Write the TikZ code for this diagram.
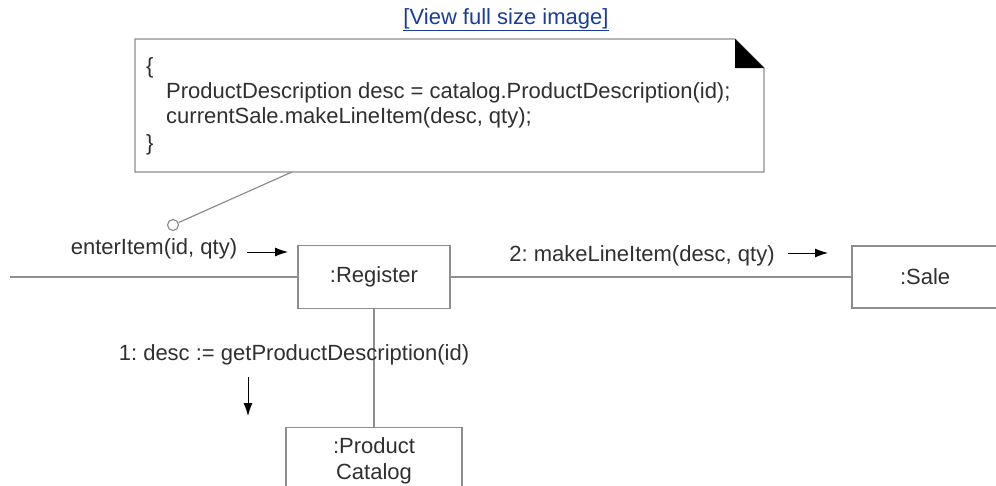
\documentclass[tikz,border=0pt]{standalone}
\usepackage{fontspec}
\setmainfont{Liberation Sans}
\usetikzlibrary{arrows.meta}
\definecolor{txt}{HTML}{303030}
\definecolor{ln}{HTML}{8E8E8E}
\definecolor{lnk}{HTML}{1A3C9E}
\frenchspacing
\begin{document}
\begin{tikzpicture}[x=1pt,y=-1pt,
  font=\fontsize{22}{26}\selectfont,
  every node/.style={text=txt},
  obj/.style={draw=ln, line width=1.2pt, fill=white, inner sep=0pt},
  wire/.style={draw=ln, line width=1.2pt},
  msg/.style={-{Latex[length=13pt,width=9pt]}, line width=0.9pt, draw=black},
  lbl/.style={inner sep=0pt}]
\useasboundingbox (0,0) rectangle (996,485);
\clip (0,0) rectangle (996,485);
\fill[white] (0,0) rectangle (996,485);

% link
\node[lbl, text=lnk] (link) at (506,20) {\underline{[View full size image]}};

% note
\draw[wire, fill=white] (135,39) -- (735,39) -- (764,68) -- (764,172) -- (135,172) -- cycle;
\fill[black] (735,39) -- (735,68) -- (764,68) -- cycle;
\node[lbl, anchor=west] (ob) at (146,68) {\{};
\node[lbl, anchor=west] (l1) at (166,93) {ProductDescription desc = catalog.ProductDescription(id);};
\node[lbl, anchor=west] (l2) at (166,118) {currentSale.makeLineItem(desc, qty);};
\node[lbl, anchor=west] (cb) at (146,145) {\}};
\coordinate (nb) at (292,172);
\node[draw=ln, line width=1.2pt, fill=white, circle, minimum size=11pt, inner sep=0pt] (circ) at (173,225) {};
\draw[wire] (nb) -- (circ);

% objects
\node[obj, minimum width=152pt, minimum height=63pt] (reg) at (374,277) {:Register};
\node[obj, minimum width=220pt, minimum height=62pt, text width=200pt] (sale) at (962,277) {\hspace*{38pt}:Sale};
\node[obj, anchor=north, minimum width=176pt, minimum height=66pt, align=center,
  font=\fontsize{22}{26}\selectfont] (cat) at (374,427) {:Product\\Catalog};

\coordinate (lend) at (10,277);
\draw[wire] (lend) -- (reg.west);
\draw[wire] (reg.east) -- (sale.west);
\draw[wire] (reg.south) -- (cat.north);

% messages
\node[lbl] (m0) at (154,249) {enterItem(id, qty)};
\coordinate (a0s) at (247,252);
\coordinate (a0e) at (288,252);
\draw[msg] (a0s) -- (a0e);

\node[lbl] (m2) at (642,256) {2: makeLineItem(desc, qty)};
\coordinate (a2s) at (788,253);
\coordinate (a2e) at (828,253);
\draw[msg] (a2s) -- (a2e);

\node[lbl] (m1) at (294,355) {1: desc := getProductDescription(id)};
\coordinate (a1s) at (248,377);
\coordinate (a1e) at (248,416);
\draw[msg] (a1s) -- (a1e);
\end{tikzpicture}
\end{document}
